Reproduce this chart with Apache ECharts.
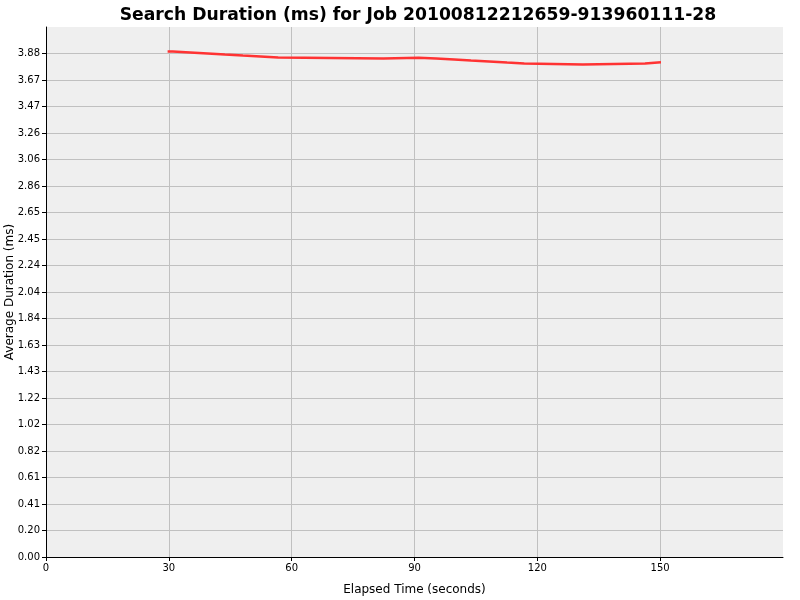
<!DOCTYPE html>
<html>
<head>
<meta charset="utf-8">
<script src="https://cdn.jsdelivr.net/npm/echarts@6/dist/echarts.min.js"></script>
<style>html,body{margin:0;padding:0;background:#fff;}#c{width:800px;height:600px;}</style>
</head>
<body>
<div id="c"></div>
<script>
const chartTitle = "Search Duration (ms) for Job 20100812212659-913960111-28";
const xAxisName = "Elapsed Time (seconds)";
const yAxisName = "Average Duration (ms)";
const times = [29.7, 31.0, 35.2, 39.5, 43.7, 48.1, 52.4, 56.7, 82.4, 91.0, 95.3, 99.7, 103.8, 108.2, 112.6, 116.8, 131.1, 146.3, 150.2];
const durations = [3.891, 3.884, 3.876, 3.868, 3.860, 3.853, 3.845, 3.837, 3.843, 3.837, 3.830, 3.822, 3.814, 3.806, 3.799, 3.791, 3.799, 3.809, 3.809];
const xMax = 180, xStep = 30;
const yMax = 4.08, yStep = 0.204;

const data = times.map((t, i) => [t, durations[i]]);
const chart = echarts.init(document.getElementById('c'), null, {renderer: 'canvas'});
const font = 'DejaVu Sans';
chart.setOption({
  backgroundColor: '#ffffff',
  animation: false,
  title: {
    text: chartTitle,
    left: 413, top: 2, textAlign: 'center',
    textStyle: {fontFamily: font, fontWeight: 'bold', fontSize: 17.2, color: '#000'}
  },
  grid: {left: 46, right: 17, top: 27, bottom: 43, show: true, backgroundColor: '#efefef', borderWidth: 0,
    containLabel: false, outerBoundsMode: 'none'},
  xAxis: {
    type: 'value', min: 0, max: xMax, interval: xStep,
    name: xAxisName, nameLocation: 'middle', nameGap: 27, nameMoveOverlap: false,
    nameTextStyle: {fontFamily: font, fontSize: 12, color: '#000'},
    axisLine: {show: true, onZero: false, lineStyle: {color: '#000', width: 1}},
    axisTick: {show: true, length: 4, lineStyle: {color: '#000'}},
    axisLabel: {fontFamily: font, fontSize: 10, color: '#000', margin: 6, showMaxLabel: false},
    splitLine: {show: true, showMinLine: false, showMaxLine: false, lineStyle: {color: '#c0c0c0', width: 1}}
  },
  yAxis: {
    type: 'value', min: 0, max: yMax, interval: yStep,
    name: yAxisName, nameLocation: 'middle', nameGap: 30, nameRotate: 90, nameMoveOverlap: false,
    nameTextStyle: {fontFamily: font, fontSize: 12, color: '#000'},
    axisLine: {show: true, lineStyle: {color: '#000', width: 1}},
    axisTick: {show: true, length: 4, lineStyle: {color: '#000'}},
    axisLabel: {fontFamily: font, fontSize: 10, color: '#000', margin: 6, showMaxLabel: false,
      formatter: v => v.toFixed(2)},
    splitLine: {show: true, showMinLine: false, showMaxLine: false, lineStyle: {color: '#c0c0c0', width: 1}}
  },
  series: [{
    type: 'line', data: data, step: 'end', showSymbol: false, symbol: 'none',
    lineStyle: {color: '#ff3333', width: 2.5}
  }]
});
</script>
</body>
</html>
